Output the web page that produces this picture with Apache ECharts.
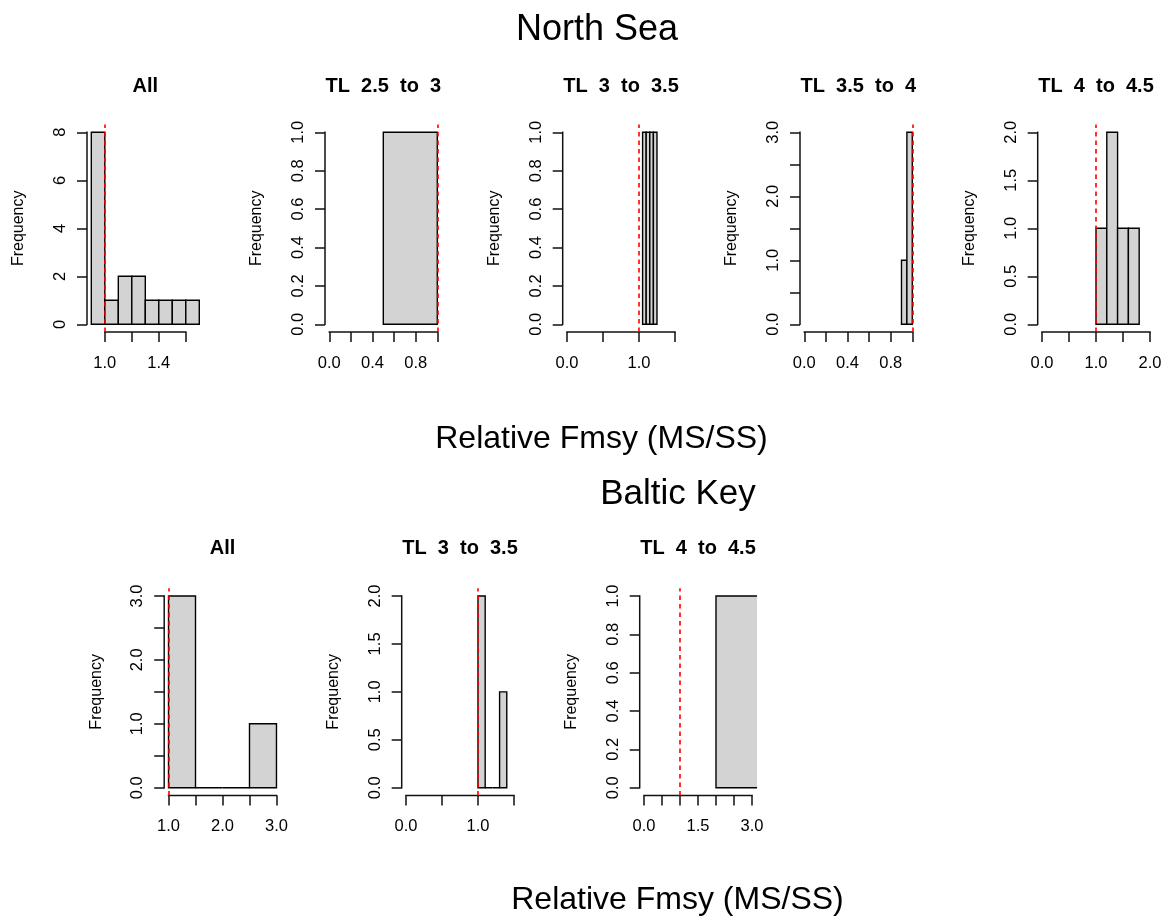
<!DOCTYPE html>
<html><head><meta charset="utf-8">
<script src="https://cdn.jsdelivr.net/npm/echarts@6/dist/echarts.min.js"></script>
<style>html,body{margin:0;padding:0;background:#fff}#c{width:1167px;height:916px}</style>
</head><body><div id="c"></div>
<script>
// ---------------- data ----------------
const refLine = 1.0;

// North Sea
const nsAllBreaks  = [0.9, 1.0, 1.1, 1.2, 1.3, 1.4, 1.5, 1.6, 1.7];
const nsAllCounts  = [8, 1, 2, 2, 1, 1, 1, 1];
const nsTL25Breaks = [0.5, 1.0];
const nsTL25Counts = [1];
const nsTL3Breaks  = [1.05, 1.10, 1.15, 1.20, 1.25];
const nsTL3Counts  = [1, 1, 1, 1];
const nsTL35Breaks = [0.90, 0.95, 1.00];
const nsTL35Counts = [1, 3];
const nsTL4Breaks  = [1.0, 1.2, 1.4, 1.6, 1.8];
const nsTL4Counts  = [1, 2, 1, 1];

// Baltic Key
const bkAllBreaks = [1.0, 1.5, 2.0, 2.5, 3.0];
const bkAllCounts = [3, 0, 0, 1];
const bkTL3Breaks = [1.0, 1.1, 1.2, 1.3, 1.4];
const bkTL3Counts = [2, 0, 0, 1];
const bkTL4Breaks = [2.0, 4.0];
const bkTL4Counts = [1];

// axis limits
const nsXlims = [[0.9, 1.7], [0, 1], [0, 1.5], [0, 1], [0, 2]];
const nsYlims = [[0, 8], [0, 1], [0, 1], [0, 3], [0, 2]];
const bkXlims = [[1, 3], [0, 1.5], [0, 3]];
const bkYlims = [[0, 3], [0, 2], [0, 1]];

// ticks and tick labels
const nsXTicks  = [[1.0, 1.2, 1.4, 1.6], [0, 0.2, 0.4, 0.6, 0.8, 1.0], [0, 0.5, 1.0, 1.5], [0, 0.2, 0.4, 0.6, 0.8, 1.0], [0, 0.5, 1.0, 1.5, 2.0]];
const nsXLabels = [[1.0, 1.4], [0, 0.4, 0.8], [0, 1.0], [0, 0.4, 0.8], [0, 1.0, 2.0]];
const nsYTicks  = [[0, 2, 4, 6, 8], [0, 0.2, 0.4, 0.6, 0.8, 1.0], [0, 0.2, 0.4, 0.6, 0.8, 1.0], [0, 0.5, 1.0, 1.5, 2.0, 2.5, 3.0], [0, 0.5, 1.0, 1.5, 2.0]];
const nsYLabels = [[0, 2, 4, 6, 8], [0, 0.2, 0.4, 0.6, 0.8, 1.0], [0, 0.2, 0.4, 0.6, 0.8, 1.0], [0, 1.0, 2.0, 3.0], [0, 0.5, 1.0, 1.5, 2.0]];
const nsYDecimals = [0, 1, 1, 1, 1];
const bkXTicks  = [[1.0, 1.5, 2.0, 2.5, 3.0], [0, 0.5, 1.0, 1.5], [0, 0.5, 1.0, 1.5, 2.0, 2.5, 3.0]];
const bkXLabels = [[1.0, 2.0, 3.0], [0, 1.0], [0, 1.5, 3.0]];
const bkYTicks  = [[0, 0.5, 1.0, 1.5, 2.0, 2.5, 3.0], [0, 0.5, 1.0, 1.5, 2.0], [0, 0.2, 0.4, 0.6, 0.8, 1.0]];
const bkYLabels = [[0, 1.0, 2.0, 3.0], [0, 0.5, 1.0, 1.5, 2.0], [0, 0.2, 0.4, 0.6, 0.8, 1.0]];
const bkYDecimals = [1, 1, 1];

// texts
const nsTitles = ['All', 'TL  2.5  to  3', 'TL  3  to  3.5', 'TL  3.5  to  4', 'TL  4  to  4.5'];
const bkTitles = ['All', 'TL  3  to  3.5', 'TL  4  to  4.5'];
const mainTitles = ['North Sea', 'Baltic Key'];
const xLabText = 'Relative Fmsy (MS/SS)';
const yLabText = 'Frequency';

// ---------------- layout ----------------
const FONT = 'Liberation Sans, Arial, Helvetica, sans-serif';
const plotW = 116.6;
const topRow = { top: 124.6, height: 207.4, lefts: [87, 325, 562.7, 800, 1037.7], titleTop: 76 };
const botRow = { top: 588.3, height: 207.1, lefts: [164.2, 401.7, 639.7], titleTop: 538 };

const panels = [
  { row: topRow, i: 0, breaks: nsAllBreaks,  counts: nsAllCounts,  xlim: nsXlims[0], ylim: nsYlims[0], xt: nsXTicks[0], xl: nsXLabels[0], yt: nsYTicks[0], yl: nsYLabels[0], yd: nsYDecimals[0], title: nsTitles[0] },
  { row: topRow, i: 1, breaks: nsTL25Breaks, counts: nsTL25Counts, xlim: nsXlims[1], ylim: nsYlims[1], xt: nsXTicks[1], xl: nsXLabels[1], yt: nsYTicks[1], yl: nsYLabels[1], yd: nsYDecimals[1], title: nsTitles[1] },
  { row: topRow, i: 2, breaks: nsTL3Breaks,  counts: nsTL3Counts,  xlim: nsXlims[2], ylim: nsYlims[2], xt: nsXTicks[2], xl: nsXLabels[2], yt: nsYTicks[2], yl: nsYLabels[2], yd: nsYDecimals[2], title: nsTitles[2] },
  { row: topRow, i: 3, breaks: nsTL35Breaks, counts: nsTL35Counts, xlim: nsXlims[3], ylim: nsYlims[3], xt: nsXTicks[3], xl: nsXLabels[3], yt: nsYTicks[3], yl: nsYLabels[3], yd: nsYDecimals[3], title: nsTitles[3] },
  { row: topRow, i: 4, breaks: nsTL4Breaks,  counts: nsTL4Counts,  xlim: nsXlims[4], ylim: nsYlims[4], xt: nsXTicks[4], xl: nsXLabels[4], yt: nsYTicks[4], yl: nsYLabels[4], yd: nsYDecimals[4], title: nsTitles[4] },
  { row: botRow, i: 0, breaks: bkAllBreaks,  counts: bkAllCounts,  xlim: bkXlims[0], ylim: bkYlims[0], xt: bkXTicks[0], xl: bkXLabels[0], yt: bkYTicks[0], yl: bkYLabels[0], yd: bkYDecimals[0], title: bkTitles[0] },
  { row: botRow, i: 1, breaks: bkTL3Breaks,  counts: bkTL3Counts,  xlim: bkXlims[1], ylim: bkYlims[1], xt: bkXTicks[1], xl: bkXLabels[1], yt: bkYTicks[1], yl: bkYLabels[1], yd: bkYDecimals[1], title: bkTitles[1] },
  { row: botRow, i: 2, breaks: bkTL4Breaks,  counts: bkTL4Counts,  xlim: bkXlims[2], ylim: bkYlims[2], xt: bkXTicks[2], xl: bkXLabels[2], yt: bkYTicks[2], yl: bkYLabels[2], yd: bkYDecimals[2], title: bkTitles[2] }
];

function ext(lim) { const d = (lim[1] - lim[0]) * 0.04; return [lim[0] - d, lim[1] + d]; }

const grids = [], xAxes = [], yAxes = [], series = [];
const titles = [
  { text: mainTitles[0], left: 597, top: 12, textAlign: 'center', padding: 0, textStyle: { fontSize: 36, fontWeight: 'normal', color: '#000', fontFamily: FONT } },
  { text: xLabText, left: 601.5, top: 423, textAlign: 'center', padding: 0, textStyle: { fontSize: 32, fontWeight: 'normal', color: '#000', fontFamily: FONT } },
  { text: mainTitles[1], left: 678, top: 477, textAlign: 'center', padding: 0, textStyle: { fontSize: 35, fontWeight: 'normal', color: '#000', fontFamily: FONT } },
  { text: xLabText, left: 677.5, top: 884, textAlign: 'center', padding: 0, textStyle: { fontSize: 32, fontWeight: 'normal', color: '#000', fontFamily: FONT } }
];

const AX = '#111';
const AXW = 1.5;
const TICKFS = 16.5;

panels.forEach((p, k) => {
  const left = p.row.lefts[p.i];
  grids.push({ left: left, top: p.row.top, width: plotW, height: p.row.height, containLabel: false });
  const xe = ext(p.xlim), ye = ext(p.ylim);
  const xd = 1;
  xAxes.push({
    gridIndex: k, type: 'value', min: xe[0], max: xe[1], position: 'bottom',
    axisLine: { show: false, onZero: false },
    axisTick: { show: true, length: 10, customValues: p.xt, lineStyle: { color: AX, width: AXW } },
    axisLabel: { show: true, customValues: p.xl, margin: 23, fontSize: TICKFS, color: '#000', fontFamily: FONT,
                 formatter: v => Number(v).toFixed(xd) },
    splitLine: { show: false }
  });
  const yd = p.yd;
  yAxes.push({
    gridIndex: k, type: 'value', min: ye[0], max: ye[1], position: 'left',
    name: yLabText, nameLocation: 'middle', nameRotate: 90, nameGap: 60,
    nameTextStyle: { fontSize: 16, color: '#000', fontFamily: FONT },
    axisLine: { show: false, onZero: false },
    axisTick: { show: true, length: 10, customValues: p.yt, lineStyle: { color: AX, width: AXW } },
    axisLabel: { show: true, customValues: p.yl, rotate: 90, margin: 18, fontSize: TICKFS, color: '#000', fontFamily: FONT,
                 formatter: v => Number(v).toFixed(yd) },
    splitLine: { show: false }
  });
  titles.push({ text: p.title, left: left + plotW / 2, top: p.row.titleTop, textAlign: 'center', padding: 0,
                textStyle: { fontSize: 20, fontWeight: 'bold', color: '#000', fontFamily: FONT } });

  const binData = p.counts.map((c, j) => [p.breaks[j], p.breaks[j + 1], c]);
  // histogram bars
  series.push({
    type: 'custom', xAxisIndex: k, yAxisIndex: k, clip: true, silent: true, z: 2,
    data: binData,
    renderItem: function (params, api) {
      const x0 = api.value(0), x1 = api.value(1), c = api.value(2);
      const a = api.coord([x0, c]), b = api.coord([x1, 0]);
      if (c === 0) {
        return { type: 'line', shape: { x1: a[0], y1: b[1], x2: b[0], y2: b[1] }, style: { stroke: '#000', lineWidth: 1.4 } };
      }
      return { type: 'rect', shape: { x: a[0], y: a[1], width: b[0] - a[0], height: b[1] - a[1] },
               style: { fill: '#d3d3d3', stroke: '#000', lineWidth: 1.4 } };
    },
    markLine: {
      silent: true, symbol: ['none', 'none'], animation: false,
      label: { show: false },
      lineStyle: { color: '#ff0000', type: [4.5, 4], width: 1.6 },
      data: [{ xAxis: refLine }]
    }
  });
  // axis lines spanning first to last tick (R style)
  series.push({
    type: 'custom', xAxisIndex: k, yAxisIndex: k, silent: true, z: 3,
    data: [[p.xt[0], p.xt[p.xt.length - 1], p.yt[0], p.yt[p.yt.length - 1]]],
    renderItem: function (params, api) {
      const xa = api.value(0), xb = api.value(1), ya = api.value(2), yb = api.value(3);
      const q1 = api.coord([xa, ye[0]]), q2 = api.coord([xb, ye[0]]);
      const r1 = api.coord([xe[0], ya]), r2 = api.coord([xe[0], yb]);
      return { type: 'group', children: [
        { type: 'line', shape: { x1: q1[0] - AXW / 2, y1: q1[1], x2: q2[0] + AXW / 2, y2: q2[1] }, style: { stroke: AX, lineWidth: AXW } },
        { type: 'line', shape: { x1: r1[0], y1: r1[1] + AXW / 2, x2: r2[0], y2: r2[1] - AXW / 2 }, style: { stroke: AX, lineWidth: AXW } }
      ] };
    }
  });
});

const chart = echarts.init(document.getElementById('c'), null, { renderer: 'canvas' });
chart.setOption({
  animation: false,
  backgroundColor: '#fff',
  textStyle: { fontFamily: FONT },
  title: titles,
  grid: grids,
  xAxis: xAxes,
  yAxis: yAxes,
  series: series
});
</script>
</body></html>
